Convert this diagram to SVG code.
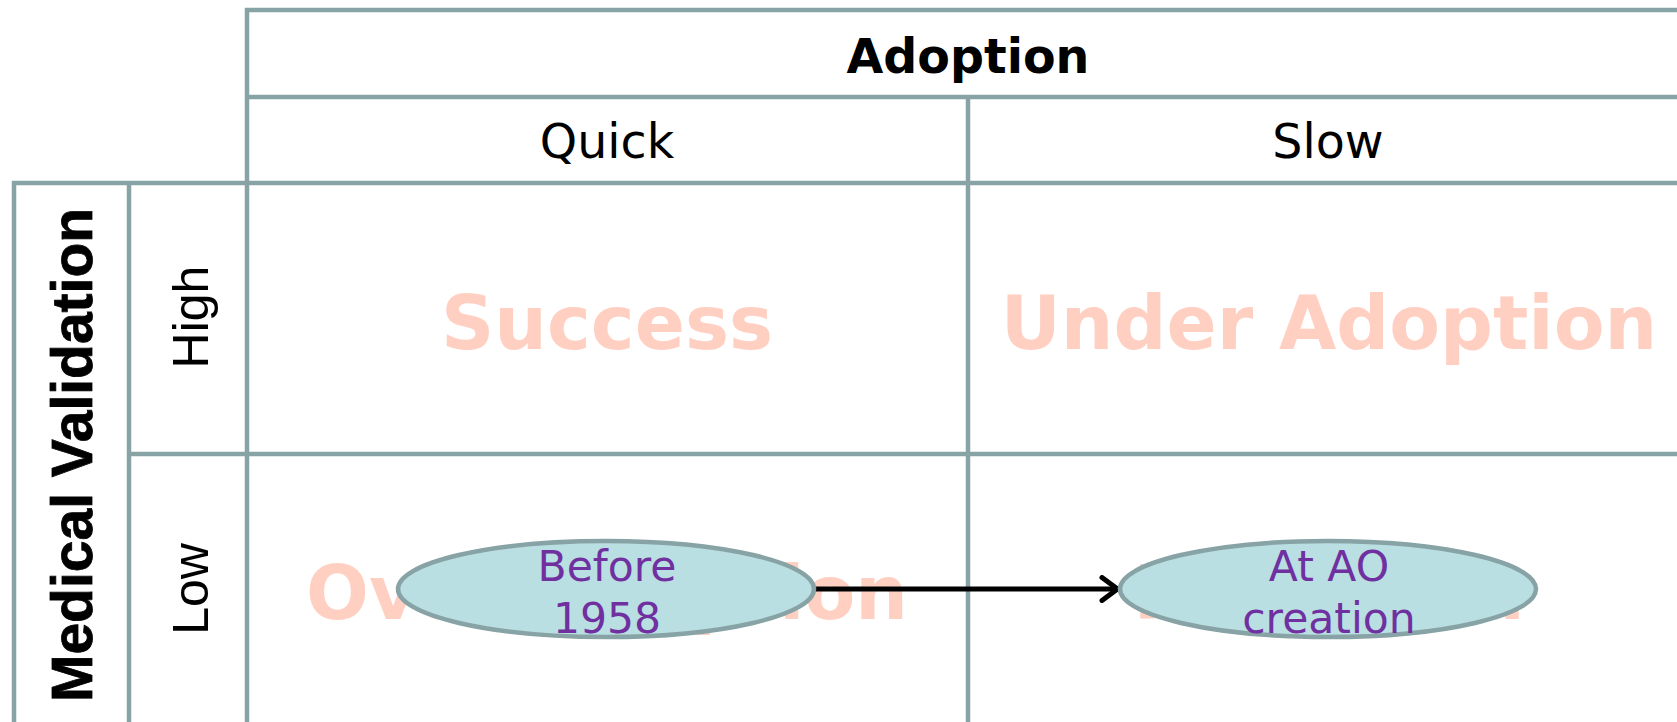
<svg xmlns="http://www.w3.org/2000/svg" width="1677" height="722" viewBox="0 0 1677 722">
  <defs>
    <style>
      .grid { stroke: #88a3a5; stroke-width: 4.5; fill: none; stroke-linecap: square; }
      .hdr { font-family: "DejaVu Sans", Verdana, sans-serif; font-size: 47.5px; fill: #000; text-anchor: middle; }
      .hdrb { font-family: "DejaVu Sans", Verdana, sans-serif; font-size: 47.5px; font-weight: bold; fill: #000; text-anchor: middle; }
      .side { font-family: "Liberation Sans", Arial, sans-serif; font-size: 50px; fill: #000; text-anchor: middle; }
      .sideb { font-family: "Liberation Sans", Arial, sans-serif; font-size: 57px; font-weight: bold; fill: #000; text-anchor: middle; stroke: #000; stroke-width: 0.8; }
      .wm { font-family: "DejaVu Sans", Verdana, sans-serif; font-size: 74px; font-weight: bold; fill: #ffd0c2; text-anchor: middle; }
      .node ellipse { fill: #b9dfe2; stroke: #88a3a5; stroke-width: 4.5; }
      .node text { font-family: "DejaVu Sans", sans-serif; font-size: 42.5px; fill: #7030a0; text-anchor: middle; }
      .conn { stroke: #000; stroke-width: 5; fill: none; }
    </style>
    <marker id="chev" viewBox="0 0 22 28" refX="19" refY="14" markerWidth="22" markerHeight="28" markerUnits="userSpaceOnUse" orient="auto">
      <path d="M3,2.5 L18.5,14 L3,25.5" fill="none" stroke="#000" stroke-width="5" stroke-linecap="round" stroke-linejoin="round"/>
    </marker>
  </defs>

  <g id="grid">
    <path class="grid" d="M247,10 H1690 M247,97 H1690 M14,183 H1690 M129,454 H1690 M247,10 V740 M968,97 V740 M14,183 V740 M129,183 V740"/>
  </g>

  <g id="headers">
    <text class="hdrb" x="968" y="73">Adoption</text>
    <text class="hdr" x="607" y="158">Quick</text>
    <text class="hdr" x="1328" y="158">Slow</text>
    <text class="sideb" transform="translate(92,455) rotate(-90)">Medical Validation</text>
    <text class="side" transform="translate(208,317) rotate(-90)">High</text>
    <text class="side" transform="translate(208,589) rotate(-90)">Low</text>
  </g>

  <g id="quadrants">
    <text class="wm" x="607" y="349">Success</text>
    <text class="wm" x="1329" y="349">Under Adoption</text>
    <text class="wm" x="607" y="619">Over Adoption</text>
    <text class="wm" x="1329" y="619">Rejection</text>
  </g>

  <g id="connectors">
    <line class="conn" x1="815" y1="589" x2="1118" y2="589" marker-end="url(#chev)"/>
  </g>

  <g id="node-before-1958" class="node">
    <ellipse cx="606" cy="589" rx="208" ry="48"/>
    <text x="607" y="581">Before</text>
    <text x="607" y="633">1958</text>
  </g>

  <g id="node-at-ao-creation" class="node">
    <ellipse cx="1328" cy="589" rx="208" ry="48"/>
    <text x="1329" y="581">At AO</text>
    <text x="1329" y="633">creation</text>
  </g>
</svg>
